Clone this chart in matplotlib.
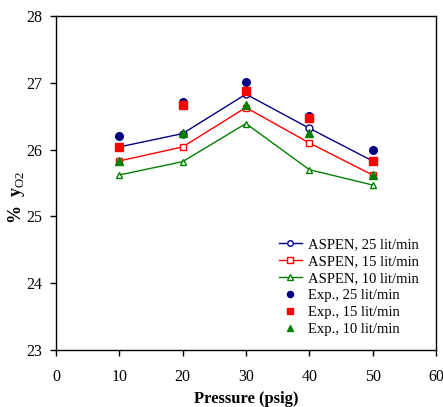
import matplotlib
matplotlib.use("Agg")
import matplotlib.pyplot as plt

plt.rcParams['font.family'] = ['Liberation Serif', 'DejaVu Serif']
plt.rcParams['mathtext.fontset'] = 'custom'
plt.rcParams['mathtext.rm'] = 'Liberation Serif'

pressure = [10, 20, 30, 40, 50]
aspen_25 = [26.04, 26.24, 26.83, 26.32, 25.83]
aspen_15 = [25.83, 26.04, 26.63, 26.10, 25.62]
aspen_10 = [25.62, 25.82, 26.39, 25.70, 25.47]
exp_25 = [26.20, 26.71, 27.01, 26.51, 26.00]
exp_15 = [26.04, 26.67, 26.88, 26.47, 25.83]
exp_10 = [25.83, 26.25, 26.67, 26.25, 25.62]

fig = plt.figure(figsize=(4.43, 4.07), dpi=100)
ax = fig.add_axes([0.1264, 0.140, 0.8576, 0.8207])

ax.plot(pressure, aspen_25, color='#000080', lw=1, marker='o', ms=5, mfc='white', mew=1, label='ASPEN, 25 lit/min')
ax.plot(pressure, aspen_15, color='red', lw=1, marker='s', ms=5, mfc='white', mew=1, label='ASPEN, 15 lit/min')
ax.plot(pressure, aspen_10, color='green', lw=1, marker='^', ms=5, mfc='white', mew=1, label='ASPEN, 10 lit/min')
ax.plot(pressure, exp_25, ls='none', color='#000080', marker='o', ms=5.5, label='Exp., 25 lit/min')
ax.plot(pressure, exp_15, ls='none', color='red', marker='s', ms=5.5, label='Exp., 15 lit/min')
ax.plot(pressure, exp_10, ls='none', color='green', marker='^', ms=5.5, label='Exp., 10 lit/min')

ax.set_xlim(0, 60)
ax.set_ylim(23, 28)
ax.set_xticks(range(0, 61, 10))
ax.set_yticks(range(23, 29))
ax.tick_params(direction='out', labelsize=11.5, length=4, width=1)
ax.tick_params(axis='x', pad=10)
ax.tick_params(axis='y', pad=6)
for s in ax.spines.values():
    s.set_linewidth(1)

ax.set_xlabel('Pressure (psig)', fontsize=12, fontweight='bold', labelpad=4)
ax.set_ylabel(r'%  y$_{\mathrm{O2}}$', fontsize=13, fontweight='bold')
ax.yaxis.set_label_coords(-0.076, 0.455)

ax.legend(loc='lower right', bbox_to_anchor=(0.982, 0.012), frameon=False, fontsize=10.5,
          handlelength=1.6, handletextpad=0.4, labelspacing=0.25, borderaxespad=0.3, markerscale=0.8)

fig.savefig('out.png', dpi=100)
